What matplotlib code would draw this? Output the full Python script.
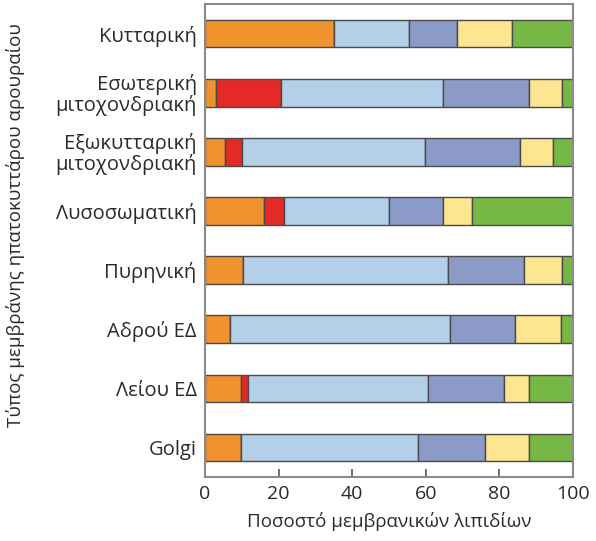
import numpy as np
import matplotlib

matplotlib.use("Agg")
import matplotlib.pyplot as plt

plt.rcParams["font.family"] = ["Open Sans", "DejaVu Sans"]

MEMBRANES = ["Κυτταρική", "Εσωτερική\nμιτοχονδριακή", "Εξωκυτταρική\nμιτοχονδριακή",
             "Λυσοσωματική", "Πυρηνική", "Αδρού ΕΔ", "Λείου ΕΔ", "Golgi"]
# lipid shares in %, one list per lipid class
ORANGE = [35.0, 3.0, 5.4, 16.0, 10.2, 6.7, 9.7, 9.7]
RED = [0.0, 17.6, 4.6, 5.6, 0.0, 0.0, 2.1, 0.0]
LIGHTBLUE = [20.6, 44.0, 49.8, 28.4, 55.9, 60.0, 48.9, 48.1]
BLUE = [12.9, 23.6, 25.9, 14.7, 20.6, 17.7, 20.5, 18.2]
YELLOW = [15.1, 8.9, 8.9, 8.0, 10.4, 12.3, 7.0, 12.0]
GREEN = [16.4, 2.9, 5.4, 27.3, 2.9, 3.3, 11.8, 12.0]

SERIES = [ORANGE, RED, LIGHTBLUE, BLUE, YELLOW, GREEN]
COLORS = ["#F0922E", "#E32A27", "#B3D0E8", "#8C9AC8", "#FEE58F", "#76B843"]
TXT = "#2a2a2a"

fig = plt.figure(figsize=(5.96, 5.41), dpi=100)
ax = fig.add_axes([0.344, 0.118, 0.617, 0.8746])

y = np.arange(len(MEMBRANES))
left = np.zeros(len(MEMBRANES))
for vals, col in zip(SERIES, COLORS):
    vals = np.array(vals)
    ax.barh(y, vals, left=left, height=0.47, color=col, edgecolor="#4a4a4a", linewidth=1.0)
    left += vals

ax.set_xlim(0, 100)
ax.set_ylim(7.5, -0.5)
ax.set_yticks(y)
ax.set_yticklabels(MEMBRANES, fontsize=14.5, color=TXT, linespacing=1.0)
ax.set_xticks([0, 20, 40, 60, 80, 100])
ax.tick_params(axis="y", length=0, pad=6)
ax.tick_params(axis="x", direction="in", length=6, width=1.2, color="#555555",
               labelsize=14, labelcolor=TXT, pad=6)
for s in ax.spines.values():
    s.set_color("#8a8a8a")
    s.set_linewidth(1.5)

ax.set_xlabel("Ποσοστό μεμβρανικών λιπιδίων", fontsize=13.5, color=TXT, labelpad=6)
fig.text(0.026, 0.584, "Τύπος μεμβράνης ηπατοκυττάρου αρουραίου", rotation=90,
         ha="center", va="center", fontsize=13.5, color=TXT)

fig.savefig("out.png", dpi=100)
